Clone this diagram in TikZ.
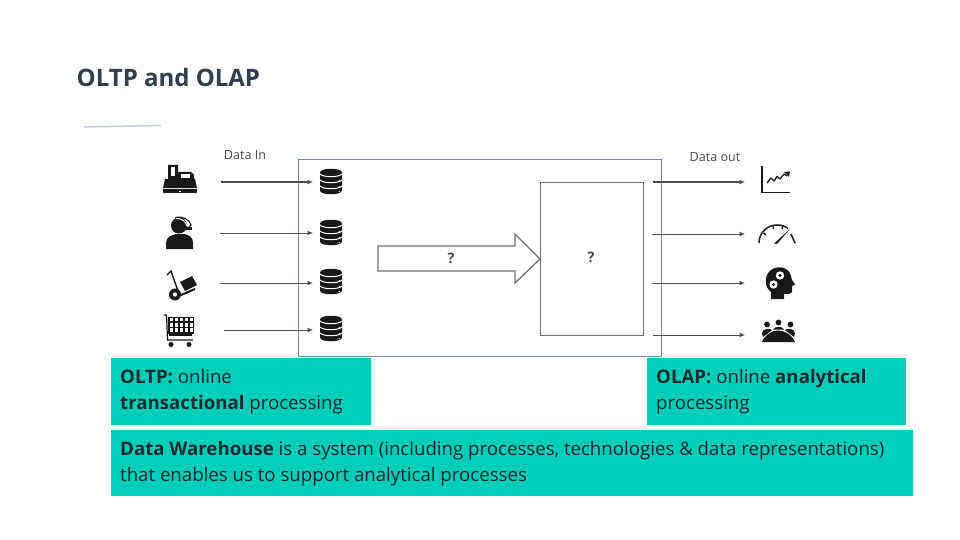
\documentclass[tikz,border=0pt]{standalone}
\usepackage{fontspec}
\setmainfont{Open Sans}
\usetikzlibrary{arrows.meta}
\definecolor{tealbox}{HTML}{00CDB8}
\definecolor{titlecol}{HTML}{2F3E4E}
\definecolor{framecol}{HTML}{6F86B8}
\definecolor{rulecol}{HTML}{C3CFDF}
\definecolor{shapecol}{HTML}{707070}
\definecolor{labelcol}{HTML}{4A4A4A}
\definecolor{bodycol}{HTML}{1F2A33}
\tikzset{
  flow/.style={draw=black!70,line width=1pt,-{Latex[length=5.5pt,width=5pt]}},
  callout/.style={fill=tealbox,draw=none,inner sep=0pt},
  calltext/.style={anchor=north west,align=left,inner sep=0pt,text=bodycol,font=\fontsize{18.65}{26}\selectfont},
  smalllabel/.style={text=labelcol,font=\fontsize{12.6}{14}\selectfont,inner sep=0pt},
  qmark/.style={text=labelcol,font=\fontsize{14.5}{16}\selectfont\bfseries,inner sep=0pt},
  outline/.style={draw=shapecol,line width=1.3pt,fill=white},
  ink/.style={fill=black!90,draw=none},
  pics/dbicon/.style={code={
    \fill[black!90] (-11,-9) .. controls (-11,-14) and (11,-14) .. (11,-9) -- (11,9) .. controls (11,14) and (-11,14) .. (-11,9) -- cycle;
    \foreach \yy in {-7.5,-1.5,4.5}{
      \draw[white,line width=1pt] (-11,\yy) .. controls (-8,\yy+3.6) and (8,\yy+3.6) .. (11,\yy);
    }
    \foreach \yy in {-1,5,10}{
      \fill[white] (8.2,\yy) circle[radius=0.6];
    }
  }}
}
\begin{document}
\begin{tikzpicture}[x=1pt,y=-1pt]
\useasboundingbox (0,0) rectangle (960,540);
\fill[white] (0,0) rectangle (960,540);
% title
\node[anchor=west,inner sep=0pt,text=titlecol,font=\fontsize{24}{28}\selectfont\bfseries] (title) at (76.5,78) {OLTP and OLAP};
\coordinate (ruleA) at (84,127);
\coordinate (ruleB) at (161,125.5);
\draw[rulecol,line width=1.5pt] (ruleA) -- (ruleB);
% frame
\node[draw=framecol,line width=1pt,minimum width=363pt,minimum height=197pt,inner sep=0pt,anchor=north west] (frame) at (298,159) {};
% labels
\node[smalllabel] (datain) at (245,155.5) {Data In};
\node[smalllabel] (dataout) at (715,157.5) {Data out};
% central block arrow
\draw[outline,line join=miter] (378,246) -- (515,246) -- (515,234) -- (540,259) -- (515,283) -- (515,271) -- (378,271) -- cycle;
\node[qmark] (q1) at (451,258) {?};
\node[outline,minimum width=103pt,minimum height=153pt,inner sep=0pt,anchor=north west] (store) at (540,182) {};
\node[qmark] (q2) at (591,257) {?};
% database icons
\foreach \n/\y in {1/181.5,2/232.5,3/281.5,4/328.5}{
  \coordinate (db\n) at (331,\y);
  \pic at (db\n) {dbicon};
}
% coordinates of connector ends
\coordinate (inA1) at (221,182); \coordinate (inB1) at (313,182);
\coordinate (inA2) at (220,233); \coordinate (inB2) at (313,233);
\coordinate (inA3) at (220,283); \coordinate (inB3) at (313,283);
\coordinate (inA4) at (223.5,330); \coordinate (inB4) at (313,330);
\coordinate (outA1) at (653,182); \coordinate (outB1) at (745,182);
\coordinate (outA2) at (652,234); \coordinate (outB2) at (745,234);
\coordinate (outA3) at (652,283); \coordinate (outB3) at (745,283);
\coordinate (outA4) at (653,335); \coordinate (outB4) at (745,335);
\foreach \n in {1,2,3,4}{
  \draw[flow] (inA\n) -- (inB\n);
  \draw[flow] (outA\n) -- (outB\n);
}
% cash register
\begin{scope}[shift={(163,165)}]
  \fill[ink] (0,24) rectangle (34,28);
  \fill[ink] (2,14) -- (5,14) -- (5,0) -- (15,0) -- (15,7) -- (28,7) -- (31,10) -- (31,14) -- (32,14) -- (34,23) -- (0,23) -- cycle;
  \fill[white] (7.5,2.5) rectangle (12,11);
  \fill[white] (18,9.5) rectangle (27,13);
  \fill[white] (16,25.5) rectangle (18,26.8);
\end{scope}
% agent with headset
\begin{scope}[shift={(166,217)}]
  \fill[ink] (0,32) -- (0,26) .. controls (0,20) and (6,18) .. (10,17) -- (18,17) .. controls (23,18) and (27,20) .. (27,26) -- (27,32) -- cycle;
  \fill[ink] (13,8.5) circle[radius=8];
  \draw[white,line width=1pt] (10,1.5) .. controls (16,1) and (20,5) .. (21,9);
  \draw[black!90,line width=1.2pt] (9,1) .. controls (16,-2) and (24,3) .. (25,8) -- (20,13);
  \fill[ink] (20,10) rectangle (26,13);
\end{scope}
% hand truck
\begin{scope}[shift={(166,268)}]
  \draw[black!90,line width=1.4pt,line cap=round] (1,7) -- (5,3) -- (12,23);
  \fill[ink] (14,14) -- (26,8) -- (31,17) -- (19,23) -- cycle;
  \draw[black!90,line width=2pt] (15,27) -- (29,21);
  \fill[ink] (9,26.5) circle[radius=6];
  \fill[white] (9,26.5) circle[radius=2.2];
\end{scope}
% shopping cart
\begin{scope}[shift={(163,314)}]
  \draw[black!90,line width=1.2pt] (0.5,1) -- (3.5,1) -- (4.5,26) -- (30,26);
  \fill[ink] (5,3) rectangle (31,20);
  \foreach \cx in {8,13,18,23,28}{\foreach \cy in {5.5,11,16}{\fill[white] (\cx-1.5,\cy-1.7) rectangle (\cx+1.5,\cy+1.7);}}
  \fill[ink] (6,20) rectangle (29,22);
  \fill[ink] (8,30.5) circle[radius=2.5];
  \fill[ink] (26,30.5) circle[radius=2.5];
\end{scope}
% chart icon
\begin{scope}[shift={(761,165)}]
  \draw[black!90,line width=1.5pt] (1,1) -- (1,27.5) -- (29,27.5);
  \draw[black!90,line width=1.3pt,line join=round] (6,18) -- (10,13) -- (13,16) -- (16,11.5) -- (19,14) -- (23,9) -- (26,11);
  \fill[ink] (23,7) -- (29,6.5) -- (28,12) -- cycle;
\end{scope}
% gauge icon
\begin{scope}[shift={(777,243)}]
  \draw[black!90,line width=1.5pt] (-18,0) .. controls (-18,-11) and (-9,-18) .. (0,-18) .. controls (4,-18) and (8,-17) .. (11,-14.5);
  \draw[black!90,line width=1.5pt] (14,-9) -- (18,0);
  \draw[black!90,line width=1.3pt] (-13.5,-10) -- (-11,-8) (-4,-17) -- (-3.5,-14) (6,-17) -- (5,-14);
  \fill[ink] (-3,0.5) -- (0,1) -- (13,-14) -- cycle;
\end{scope}
% head with gears icon
\begin{scope}[shift={(765,267)}]
  \fill[ink] (6,32) -- (6,25) .. controls (-1,20) and (-1,8) .. (6,3) .. controls (13,-2) and (24,0) .. (26,9) .. controls (26,12) and (27,13) .. (30,17.5) -- (27,19) -- (27,24) .. controls (27,27) and (24,27) .. (19,27) -- (19,32) -- cycle;
  \fill[white] (15,8.5) circle[radius=4.2];
  \fill[ink] (15,8.5) circle[radius=1.7];
  \fill[white] (8.5,17.5) circle[radius=4.2];
  \fill[ink] (8.5,17.5) circle[radius=1.7];
\end{scope}
% meeting icon
\begin{scope}[shift={(761,319)}]
  \fill[ink] (1,23) .. controls (4,15.5) and (11,11.5) .. (17,11.5) .. controls (23,11.5) and (31,15.5) .. (34,23) -- cycle;
  \foreach \hx/\hy in {6/5.5,17.5/3.5,29.5/5.5}{
    \fill[ink] (\hx,\hy) circle[radius=2.9];
  }
  \fill[ink] (1,14.5) .. controls (1,9) and (10,9) .. (11,11) -- (2,18) -- cycle;
  \fill[ink] (34,14.5) .. controls (34,9) and (25,9) .. (24,11) -- (33,18) -- cycle;
  \fill[ink] (12,10.5) .. controls (13,7) and (22,7) .. (23,10.5) -- cycle;
\end{scope}
% callouts
\node[callout,anchor=north west,minimum width=260pt,minimum height=67pt] (oltp) at (110.5,358) {};
\node[calltext] (oltpt) at (120,369.5) {\textbf{OLTP:} online\\\textbf{transactional} processing};
\node[callout,anchor=north west,minimum width=259pt,minimum height=67pt] (olap) at (647,358) {};
\node[calltext] (olapt) at (656,369.5) {\textbf{OLAP:} online \textbf{analytical}\\processing};
\node[callout,anchor=north west,minimum width=802.5pt,minimum height=66pt] (dw) at (110.5,430) {};
\node[calltext] (dwt) at (120,441.3) {\textbf{Data Warehouse} is a system (including processes, technologies \& data representations)\\that enables us to support analytical processes};
\end{tikzpicture}
\end{document}
